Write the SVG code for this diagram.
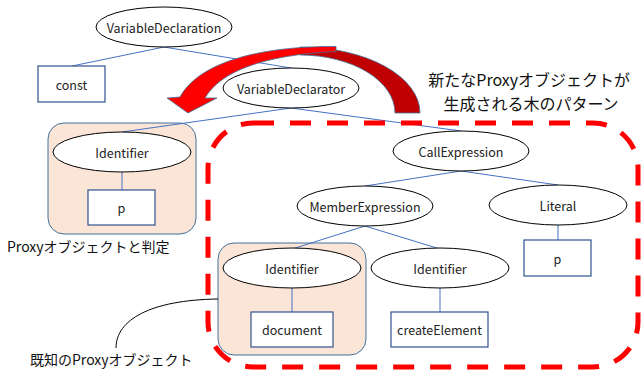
<svg xmlns="http://www.w3.org/2000/svg" width="643" height="371" viewBox="0 0 643 371">
  <style>
    .bg { fill: #ffffff; }
    .group-box { fill: #fbe5d6; stroke: #41719c; stroke-width: 1; }
    .edge { stroke: #4472c4; stroke-width: 1; fill: none; }
    .ell { fill: #ffffff; stroke: #000000; stroke-width: 1; }
    .box { fill: #ffffff; stroke: #2f528f; stroke-width: 1.2; }
    .lbl { font-family: "Noto Sans CJK JP", "Noto Sans", sans-serif; font-size: 12.5px; fill: #222222; text-anchor: middle; dominant-baseline: central; }
    .note { font-family: "Noto Sans CJK JP", "Noto Sans", sans-serif; fill: #111111; }
    .pattern { fill: none; stroke: #ff0000; stroke-width: 5; stroke-dasharray: 21 16; }
    .callout { fill: none; stroke: #000000; stroke-width: 1; }
  </style>

  <rect class="bg" x="0" y="0" width="643" height="371"/>

  <!-- highlighted groups (Proxy objects) -->
  <rect class="group-box" x="48" y="123" width="148" height="111" rx="16"/>
  <rect class="group-box" x="218" y="243" width="148" height="112" rx="16"/>

  <!-- tree edges -->
  <g id="edges">
    <line class="edge" x1="164" y1="47" x2="72" y2="66"/>
    <line class="edge" x1="164" y1="47" x2="291" y2="68"/>
    <line class="edge" x1="291" y1="108" x2="122" y2="132"/>
    <line class="edge" x1="291" y1="108" x2="461" y2="131"/>
    <line class="edge" x1="122" y1="172" x2="122" y2="190"/>
    <line class="edge" x1="461" y1="171" x2="365" y2="186"/>
    <line class="edge" x1="461" y1="171" x2="558" y2="185"/>
    <line class="edge" x1="558" y1="225" x2="558" y2="240"/>
    <line class="edge" x1="365" y1="226" x2="292" y2="249"/>
    <line class="edge" x1="365" y1="226" x2="440" y2="249"/>
    <line class="edge" x1="292" y1="288" x2="292" y2="312"/>
    <line class="edge" x1="440" y1="288" x2="440" y2="312"/>
  </g>

  <g id="variable-declaration">
    <ellipse class="ell" cx="164" cy="27" rx="68" ry="20"/>
    <text class="lbl" x="164" y="27">VariableDeclaration</text>
  </g>
  <g id="const">
    <rect class="box" x="38" y="66" width="67" height="36"/>
    <text class="lbl" x="71.5" y="84">const</text>
  </g>
  <g id="variable-declarator">
    <ellipse class="ell" cx="291" cy="88" rx="68" ry="20"/>
    <text class="lbl" x="291" y="88">VariableDeclarator</text>
  </g>
  <g id="identifier-p">
    <ellipse class="ell" cx="122" cy="152" rx="69" ry="20"/>
    <text class="lbl" x="122" y="152">Identifier</text>
  </g>
  <g id="name-p">
    <rect class="box" x="88" y="190" width="67" height="35"/>
    <text class="lbl" x="121.5" y="207.5">p</text>
  </g>
  <g id="call-expression">
    <ellipse class="ell" cx="461" cy="151" rx="68" ry="20"/>
    <text class="lbl" x="461" y="151">CallExpression</text>
  </g>
  <g id="member-expression">
    <ellipse class="ell" cx="365" cy="206" rx="68" ry="20"/>
    <text class="lbl" x="365" y="206">MemberExpression</text>
  </g>
  <g id="literal">
    <ellipse class="ell" cx="558" cy="205" rx="69" ry="20"/>
    <text class="lbl" x="558" y="205">Literal</text>
  </g>
  <g id="literal-p">
    <rect class="box" x="524" y="240" width="67" height="36"/>
    <text class="lbl" x="557.5" y="258">p</text>
  </g>
  <g id="identifier-document">
    <ellipse class="ell" cx="292" cy="268" rx="69" ry="20"/>
    <text class="lbl" x="292" y="268">Identifier</text>
  </g>
  <g id="name-document">
    <rect class="box" x="251" y="312" width="82" height="35"/>
    <text class="lbl" x="292" y="329.5">document</text>
  </g>
  <g id="identifier-create">
    <ellipse class="ell" cx="440" cy="268" rx="69" ry="20"/>
    <text class="lbl" x="440" y="268">Identifier</text>
  </g>
  <g id="name-create">
    <rect class="box" x="391" y="312" width="97" height="35"/>
    <text class="lbl" x="439.5" y="329.5">createElement</text>
  </g>

  <!-- pattern boundary -->
  <rect class="pattern" x="208" y="123" width="430" height="244" rx="45"/>

  <!-- curved arrow: back side (dark) and front side (bright) -->
  <g id="curved-arrow">
    <path d="M300,47 A120,66 0 0 1 420,113 L395,113 A95,58 0 0 0 300,55 Z" fill="#c00000" stroke="#41719c" stroke-width="0.8"/>
    <path d="M336,46.5 C255,46 198,64 180,97 L167,98 L188,113 L217,98 L205,98 C220,72 262,55 336,51.5 Z" fill="#ff0000" stroke="#41719c" stroke-width="0.8"/>
  </g>

  <!-- annotations -->
  <text id="pattern-label" class="note" font-size="16" text-anchor="middle">
    <tspan x="531" y="85.5">新たなProxyオブジェクトが</tspan>
    <tspan x="531" y="109.5">生成される木のパターン</tspan>
  </text>
  <text class="note" x="7" y="252" font-size="14">Proxyオブジェクトと判定</text>
  <g id="known-proxy-label">
    <path class="callout" d="M116,348 C116,320 150,300 218,299"/>
    <text class="note" x="30" y="365" font-size="14">既知のProxyオブジェクト</text>
  </g>
</svg>
